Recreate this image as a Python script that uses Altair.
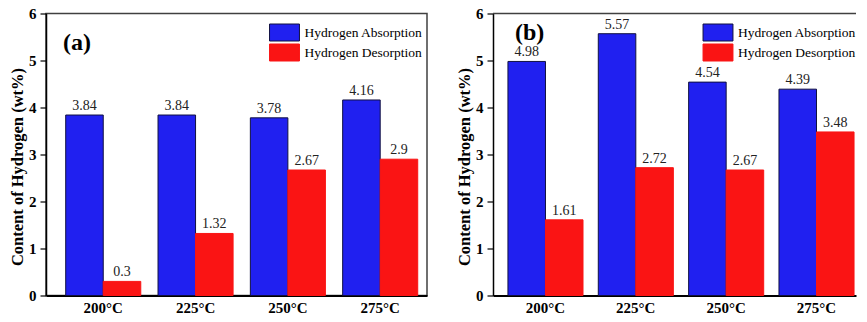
import altair as alt
import pandas as pd

temps = ["200°C", "225°C", "250°C", "275°C"]
series = ["Hydrogen Absorption", "Hydrogen Desorption"]
abs_a = [3.84, 3.84, 3.78, 4.16]
des_a = [0.3, 1.32, 2.67, 2.9]
abs_b = [4.98, 5.57, 4.54, 4.39]
des_b = [1.61, 2.72, 2.67, 3.48]

SERIF = "Liberation Serif"
H = 282


def long_df(ab, de):
    rows = []
    for t, a, d in zip(temps, ab, de):
        rows.append({"temp": t, "series": series[0], "value": a})
        rows.append({"temp": t, "series": series[1], "value": d})
    return pd.DataFrame(rows)


def panel(df, tag, tag_x, tag_y, pin, pout, align, width, leg_x, framed):
    x = alt.X("temp:N", sort=temps,
              scale=alt.Scale(paddingInner=pin, paddingOuter=pout, align=align),
              axis=alt.Axis(title=None, labelAngle=0, ticks=False, domainColor="black",
                            domainWidth=2, labelFont=SERIF, labelFontWeight="bold",
                            labelFontSize=15, labelColor="black", labelPadding=5))
    xo = alt.XOffset("series:N", sort=series, scale=alt.Scale(paddingInner=0, paddingOuter=0))
    y = alt.Y("value:Q", scale=alt.Scale(domain=[0, 6], nice=False, zero=True),
              axis=alt.Axis(title="Content of Hydrogen (wt%)",
                            values=[i * 0.5 for i in range(13)],
                            labelExpr="datum.value % 1 === 0 ? datum.label : ''",
                            tickSize={"condition": {"test": "datum.value % 1 !== 0", "value": 3}, "value": 6},
                            tickColor="black", tickWidth=1.2, domainColor="black", domainWidth=1.5,
                            grid=False, labelFont=SERIF, labelFontWeight="bold", labelFontSize=15,
                            labelColor="black", labelPadding=4, titleFont=SERIF,
                            titleFontWeight="bold", titleFontSize=16.5, titleColor="black",
                            titlePadding=3, titleY=153))
    leg = alt.Legend(title=None, orient="none", legendX=leg_x, legendY=10,
                     symbolType="M-1.76,-1H1.76V1H-1.76Z", symbolSize=289,
                     symbolStrokeWidth=1, labelFont=SERIF, labelFontSize=13.5,
                     labelColor="black", rowPadding=-9, padding=0, labelOffset=11)
    bars = alt.Chart(df).mark_bar(strokeWidth=1).encode(
        x=x, xOffset=xo, y=y,
        color=alt.Color("series:N", sort=series,
                        scale=alt.Scale(domain=series, range=["#2020f0", "#fa1414"]), legend=leg),
        stroke=alt.Stroke("series:N", sort=series,
                          scale=alt.Scale(domain=series, range=["#101040", "#fa1414"]), legend=leg),
    )
    text = alt.Chart(df).mark_text(baseline="bottom", dy=-2, font=SERIF, fontSize=14,
                                   color="#222222").encode(
        x=alt.X("temp:N", sort=temps), xOffset=alt.XOffset("series:N", sort=series), y="value:Q",
        text=alt.Text("value:Q"))
    lab = alt.Chart(pd.DataFrame({"t": [tag]})).mark_text(
        font=SERIF, fontSize=24, fontWeight="bold", color="black", align="left",
        baseline="middle").encode(x=alt.value(tag_x), y=alt.value(tag_y), text="t:N")
    layers = [bars, text, lab]
    if not framed:
        top = alt.Chart(pd.DataFrame({"v": [6]})).mark_rule(color="#404040", strokeWidth=1.5).encode(
            y=alt.Y("v:Q"))
        layers.append(top)
    ch = alt.layer(*layers).properties(width=width, height=H)
    if framed:
        ch = ch.properties(view=alt.ViewBackground(stroke="#404040", strokeWidth=1.5))
    else:
        ch = ch.properties(view=alt.ViewBackground(stroke=None))
    return ch


left = panel(long_df(abs_a, des_a), "(a)", 17, 29, 0.187, 0.157, 0.68, 381, 229.5, True)
right = panel(long_df(abs_b, des_b), "(b)", 22, 19, 0.17, 0.094, 0.88, 363, 216, False)

chart = alt.hconcat(left, right, spacing=28).properties(
    padding={"left": 0, "top": -2.5, "right": 0, "bottom": -2}
).configure_view(strokeWidth=1.5).configure_legend(
    labelFont=SERIF, labelFontSize=13.5, labelColor="black"
).resolve_scale(color="independent", stroke="independent")

chart.save("out.html", embed_options={"renderer": "svg", "actions": False})
